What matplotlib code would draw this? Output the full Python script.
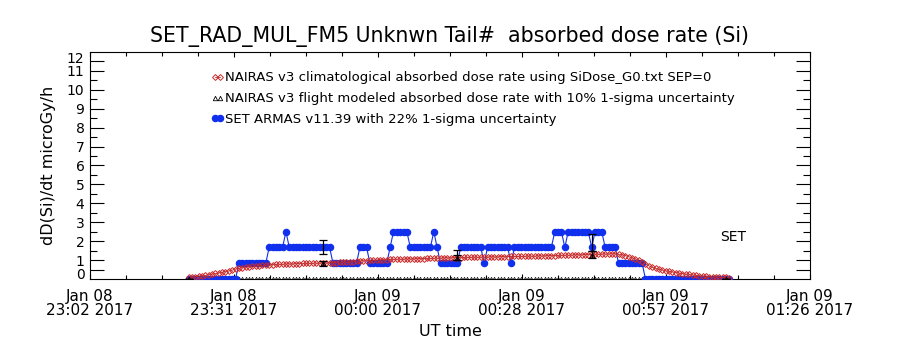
import matplotlib
matplotlib.use("Agg")
import matplotlib.pyplot as plt
import matplotlib.dates as mdates
from matplotlib.ticker import FixedLocator, NullFormatter
from matplotlib.transforms import ScaledTranslation
import numpy as np
import pandas as pd

# time axis (UT)
axis_start = "2017-01-08 23:02:24"
axis_end = "2017-01-09 01:26:24"
sample_start = "2017-01-08 23:22:06"
sample_step_s = 40.32

# SET ARMAS v11.39 dose rate, one value per sample (microGy/h)
set_dose = [
    0, 0, 0, 0, 0, 0, 0, 0, 0, 0,
    0, 0, 0, 0, 0, .83, .83, .83, .83, .83,
    .83, .83, .83, .83, 1.67, 1.67, 1.67, 1.67, 1.67, 2.5,
    1.67, 1.67, 1.67, 1.67, 1.67, 1.67, 1.67, 1.67, 1.67, 1.67,
    1.67, 1.67, 1.67, .83, .83, .83, .83, .83, .83, .83,
    .83, 1.67, 1.67, 1.67, .83, .83, .83, .83, .83, .83,
    1.67, 2.5, 2.5, 2.5, 2.5, 2.5, 1.67, 1.67, 1.67, 1.67,
    1.67, 1.67, 1.67, 2.5, 1.67, .83, .83, .83, .83, .83,
    .83, 1.67, 1.67, 1.67, 1.67, 1.67, 1.67, 1.67, .83, 1.67,
    1.67, 1.67, 1.67, 1.67, 1.67, 1.67, .83, 1.67, 1.67, 1.67,
    1.67, 1.67, 1.67, 1.67, 1.67, 1.67, 1.67, 1.67, 1.67, 2.5,
    2.5, 2.5, 1.67, 2.5, 2.5, 2.5, 2.5, 2.5, 2.5, 2.5,
    1.67, 2.5, 2.5, 2.5, 1.67, 1.67, 1.67, 1.67, .83, .83,
    .83, .83, .83, .83, .83, .83, 0, 0, 0, 0,
    0, 0, 0, 0, 0, 0, 0, 0, 0, 0,
    0, 0, 0, 0, 0, 0, 0, 0, 0, 0,
    0, 0,
]

# NAIRAS v3 climatological dose rate
nairas_clim = [
    0.08, 0.10, 0.12, 0.14, 0.16, 0.19, 0.23, 0.26, 0.29, 0.32,
    0.35, 0.39, 0.42, 0.47, 0.52, 0.56, 0.59, 0.62, 0.65, 0.67,
    0.69, 0.71, 0.72, 0.74, 0.75, 0.76, 0.77, 0.78, 0.78, 0.79,
    0.80, 0.80, 0.81, 0.81, 0.82, 0.82, 0.83, 0.83, 0.84, 0.84,
    0.85, 0.85, 0.86, 0.87, 0.87, 0.88, 0.89, 0.90, 0.91, 0.92,
    0.94, 0.95, 0.96, 0.97, 0.98, 0.99, 1.00, 1.01, 1.02, 1.02,
    1.03, 1.04, 1.04, 1.05, 1.05, 1.06, 1.06, 1.07, 1.07, 1.08,
    1.08, 1.09, 1.09, 1.10, 1.10, 1.11, 1.11, 1.12, 1.12, 1.13,
    1.13, 1.13, 1.14, 1.14, 1.15, 1.15, 1.15, 1.16, 1.16, 1.16,
    1.17, 1.17, 1.17, 1.18, 1.18, 1.18, 1.19, 1.19, 1.19, 1.20,
    1.20, 1.21, 1.21, 1.21, 1.22, 1.22, 1.23, 1.23, 1.24, 1.24,
    1.25, 1.25, 1.26, 1.26, 1.27, 1.27, 1.28, 1.28, 1.29, 1.29,
    1.30, 1.31, 1.31, 1.32, 1.32, 1.33, 1.33, 1.33, 1.31, 1.28,
    1.24, 1.18, 1.12, 1.06, 0.99, 0.90, 0.80, 0.70, 0.62, 0.56,
    0.51, 0.47, 0.43, 0.40, 0.37, 0.34, 0.31, 0.28, 0.26, 0.24,
    0.21, 0.19, 0.17, 0.15, 0.14, 0.12, 0.11, 0.10, 0.09, 0.08,
    0.08, 0.07,
]

# NAIRAS v3 flight modeled points (sample index, value, 1-sigma)
flight_idx = [0, 40, 80, 120, 160]
flight_dose = [0.0, 0.83, 1.13, 1.28, 0.0]
flight_sigma = [0.0, 0.13, 0.13, 0.19, 0.0]
flight_track = [0.0] * len(set_dose)

# SET error bars at the same points (22% 1-sigma)
set_err_center = [0.0, 1.67, 1.27, 1.93, 0.0]
set_err_frac = 0.22

major_labels_n = 6
minor_n = 21

ytick_vals = [0.5, 1, 2, 3, 4, 5, 6, 7, 8, 9, 10, 11, 11.5]
ytick_labels = ["0", "1", "2", "3", "4", "5", "6", "7", "8", "9", "10", "11", "12"]

t = pd.Timestamp(sample_start) + pd.to_timedelta(
    np.arange(len(set_dose)) * sample_step_s, unit="s"
)
t = mdates.date2num(t.to_pydatetime())
x0 = pd.Timestamp(axis_start)
x1 = pd.Timestamp(axis_end)

fig = plt.figure(figsize=(9, 3.5), dpi=100)
ax = fig.add_axes([0.1, 0.2029, 0.8, 0.6486])

blue = "#1030ee"
red = "#cc2a2a"

# dense flight-modeled track along the axis
ax.plot(t, flight_track, ls="none", marker="^", ms=3.2, mfc="none",
        mec="black", mew=0.5, zorder=2)

ax.plot(t, set_dose, color=blue, lw=0.8, marker="o", ms=4.4,
        mfc=blue, mec=blue, zorder=3,
        label="SET ARMAS v11.39 with 22% 1-sigma uncertainty")
ax.plot(t, nairas_clim, color="#a01818", lw=0.5, marker="D", ms=3.0,
        mfc="none", mec=red, mew=0.7, zorder=4,
        label="NAIRAS v3 climatological absorbed dose rate using SiDose_G0.txt SEP=0")

ft = t[flight_idx]
ax.errorbar(ft, set_err_center,
            yerr=[c * set_err_frac for c in set_err_center],
            fmt="none", ecolor="black", elinewidth=0.9, capsize=3, capthick=0.9,
            zorder=5)
ax.errorbar(ft, flight_dose, yerr=flight_sigma, fmt="none", ecolor="black",
            elinewidth=0.9, capsize=3, capthick=0.9, zorder=5)
ax.plot(ft, flight_dose, ls="none", marker="^", ms=3.2, mfc="none",
        mec="black", mew=0.6, zorder=6,
        label="NAIRAS v3 flight modeled absorbed dose rate with 10% 1-sigma uncertainty")

ax.set_xlim(mdates.date2num(x0.to_pydatetime()), mdates.date2num(x1.to_pydatetime()))
ax.set_ylim(0, 12)

majors = mdates.date2num(pd.date_range(x0, x1, periods=major_labels_n).to_pydatetime())
minors = mdates.date2num(pd.date_range(x0, x1, periods=minor_n).to_pydatetime())
ax.xaxis.set_major_locator(FixedLocator(majors))
ax.xaxis.set_minor_locator(FixedLocator(minors))
ax.xaxis.set_major_formatter(mdates.DateFormatter("%b %d\n%H:%M %Y"))
ax.xaxis.set_minor_formatter(NullFormatter())

ax.set_yticks(ytick_vals)
ax.set_yticklabels(ytick_labels)
ax.set_yticks(np.arange(1.5, 11, 1.0), minor=True)

ax.tick_params(axis="both", which="both", direction="in", top=True, right=True,
               width=0.8, colors="black")
ax.tick_params(axis="x", which="major", length=3.4, pad=7, labelsize=11)
ax.tick_params(axis="x", which="minor", length=3.0)
ax.tick_params(axis="y", which="major", length=10.4, pad=4, labelsize=10)
ax.tick_params(axis="y", which="minor", length=5.0)
for lab in ax.get_xticklabels():
    lab.set_linespacing(0.95)

# end labels sit a little toward the axis ends
ylabs = ax.get_yticklabels()
ylabs[0].set_transform(ylabs[0].get_transform()
                       + ScaledTranslation(0, -4 / 100, fig.dpi_scale_trans))
ylabs[-1].set_transform(ylabs[-1].get_transform()
                        + ScaledTranslation(0, 4 / 100, fig.dpi_scale_trans))

for sp in ax.spines.values():
    sp.set_linewidth(0.8)

ax.set_title("SET_RAD_MUL_FM5 Unknwn Tail#  absorbed dose rate (Si)",
             fontsize=14.8, pad=7)
ax.set_ylabel("dD(Si)/dt microGy/h", fontsize=11.5, labelpad=8)
ax.set_xlabel("UT time", fontsize=11.5, labelpad=4)

ax.text(0.893, 0.185, "SET", transform=ax.transAxes, ha="center", va="center",
        fontsize=10)

h, l = ax.get_legend_handles_labels()
order = [1, 2, 0]
ax.legend([h[i] for i in order], [l[i] for i in order], loc="upper left",
          bbox_to_anchor=(0.168, 0.915), frameon=False, fontsize=9.5,
          handlelength=1.0, handletextpad=0.1, labelspacing=0.6,
          borderpad=0, borderaxespad=0, numpoints=2)

fig.savefig("out.png", dpi=100)
